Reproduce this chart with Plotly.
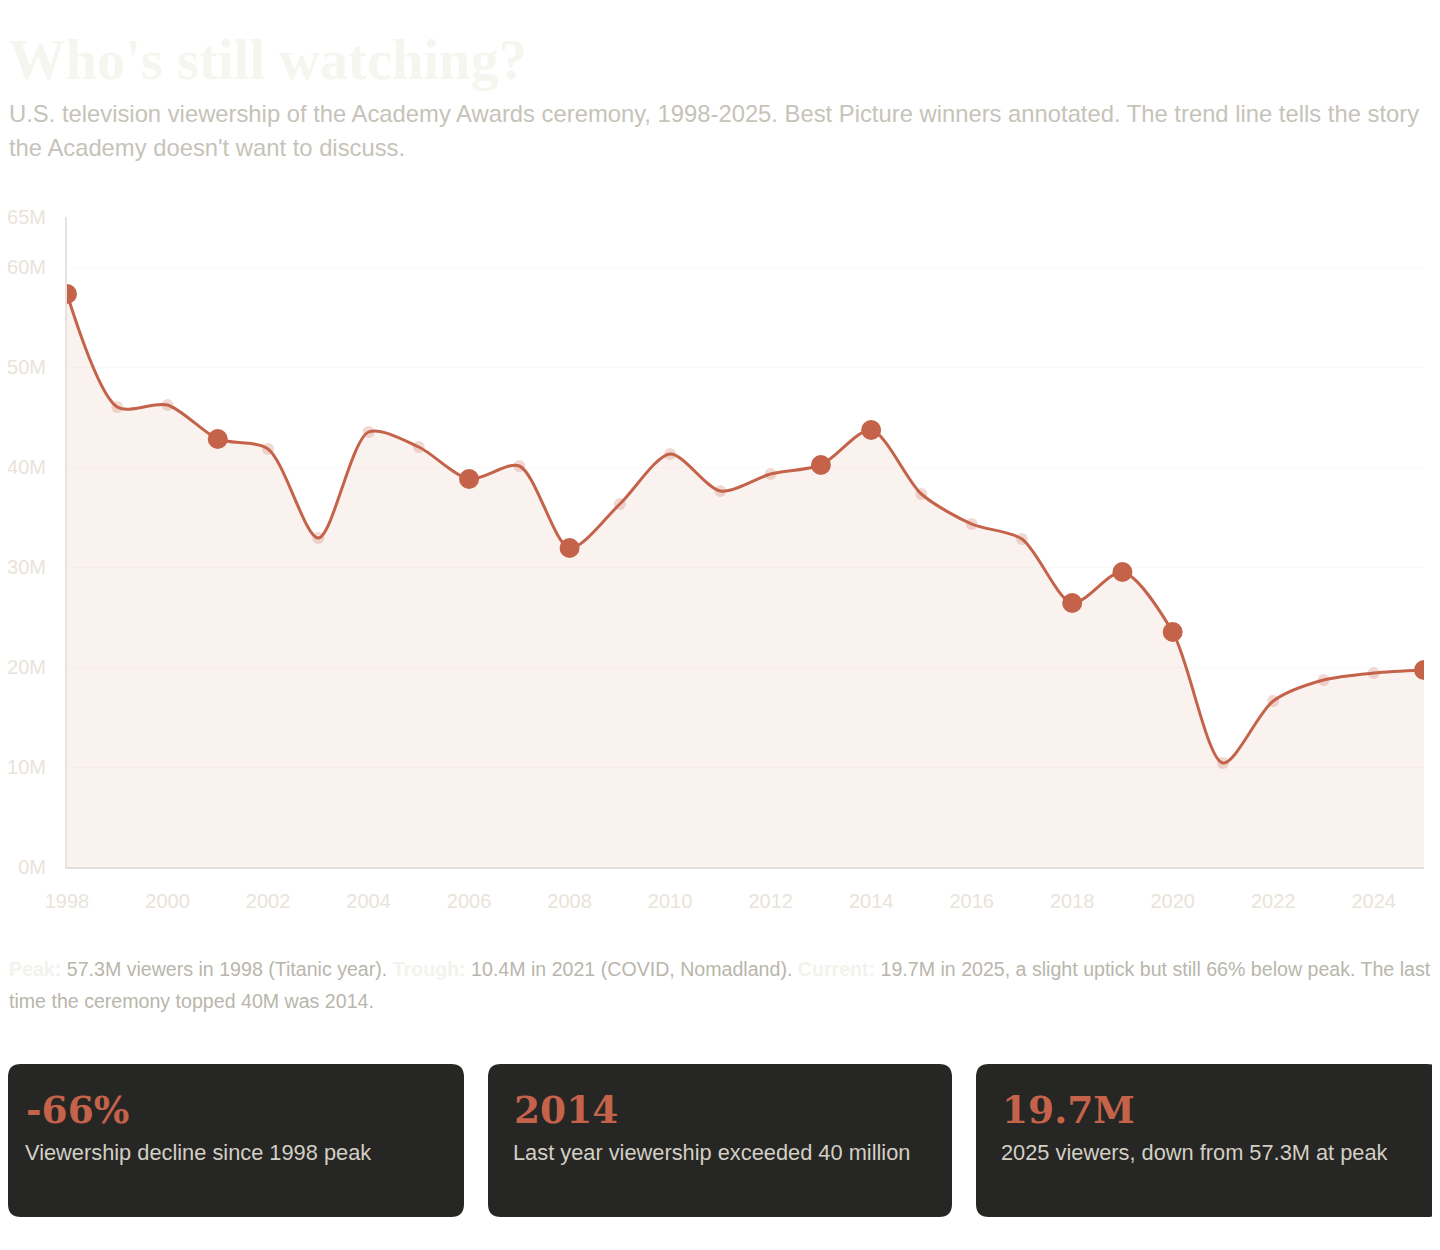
import plotly.graph_objects as go

W, H = 1440, 1250
OFF = 8  # the page body adds an 8px margin around the figure

years = list(range(1998, 2026))
viewers = [57.3, 46.0, 46.2, 42.8, 41.8, 32.9, 43.5, 42.0, 38.8, 40.1,
           31.9, 36.3, 41.3, 37.6, 39.3, 40.2, 43.7, 37.3, 34.3, 32.8,
           26.4, 29.5, 23.5, 10.4, 16.6, 18.7, 19.4, 19.7]

winner_years = [1998, 2001, 2006, 2008, 2013, 2014, 2018, 2019, 2020, 2025]
winner_films = ['Titanic', 'Gladiator', 'Crash', 'No Country for Old Men', 'Argo',
                '12 Years a Slave', 'The Shape of Water', 'Green Book', 'Parasite', 'Anora']
winner_vals = [viewers[years.index(y)] for y in winner_years]

ytick_vals = [0, 10, 20, 30, 40, 50, 60, 65]
ytick_text = ['0M', '10M', '20M', '30M', '40M', '50M', '60M', '65M']
xtick_vals = list(range(1998, 2026, 2))

card_values = ['-66%', '2014', '19.7M']
card_labels = ['Viewership decline since 1998 peak',
               'Last year viewership exceeded 40 million',
               '2025 viewers, down from 57.3M at peak']

ACCENT = '#c4634a'
SANS = 'Liberation Sans, Arial, Helvetica, sans-serif'
SERIF = 'Liberation Serif, Georgia, serif'
SERIF2 = 'DejaVu Serif, Georgia, serif'


# page pixel -> paper fraction
def px(x):
    return min(max((x - OFF) / W, 0), 1)


def py(y):
    return min(max(1 - (y - OFF) / H, 0), 1)


fig = go.Figure()

# faint dots for every year
fig.add_trace(go.Scatter(
    x=years, y=viewers, mode='markers',
    marker=dict(size=12, color='rgba(196,99,74,0.24)'),
    hoverinfo='skip', showlegend=False))

# the smoothed line with area fill
fig.add_trace(go.Scatter(
    x=years, y=viewers, mode='lines',
    line=dict(color=ACCENT, width=3, shape='spline', smoothing=0.8),
    fill='tozeroy', fillcolor='rgba(196,99,74,0.085)',
    hovertemplate='%{x}: %{y:.1f}M<extra></extra>', showlegend=False))

# best picture markers
fig.add_trace(go.Scatter(
    x=winner_years, y=winner_vals, mode='markers',
    marker=dict(size=20, color=ACCENT),
    text=winner_films,
    hovertemplate='%{x} - %{text}: %{y:.1f}M<extra></extra>', showlegend=False))

annotations = []


def note(x, y, text, size, color, family=SANS):
    annotations.append(dict(
        x=px(x), y=py(y), xref='paper', yref='paper', xanchor='left', yanchor='middle',
        text=text, showarrow=False, borderpad=0,
        font=dict(family=family, size=size, color=color)))


# title + subtitle
note(0, 60, "<b>Who's still watching?</b>", 56.5, '#f6f5ef', SERIF)
note(0, 114, 'U.S. television viewership of the Academy Awards ceremony, 1998-2025. '
     'Best Picture winners annotated. The trend line tells the story', 23.8, '#c6c3b9')
note(0, 148, "the Academy doesn't want to discuss.", 23.8, '#c6c3b9')

# footer note
lab = "<b><span style='color:#f4f2ec'>%s</span></b>"
note(0, 969, (lab % 'Peak:') + ' 57.3M viewers in 1998 (Titanic year). '
     + (lab % 'Trough:') + ' 10.4M in 2021 (COVID, Nomadland). '
     + (lab % 'Current:') + ' 19.7M in 2025, a slight uptick but still 66% below peak. The last',
     19.6, '#b9b6ac')
note(0, 1001, 'time the ceremony topped 40M was 2014.', 19.6, '#b9b6ac')

# stat cards
shapes = []
card_x0 = [0, 488, 976]
card_w = 464
cy0, cy1 = 1064, 1217
r = 13
for i, x0 in enumerate(card_x0):
    a, b = max(x0, OFF), x0 + card_w
    path = (f'M {px(a + r)} {py(cy0)} L {px(b - r)} {py(cy0)} '
            f'Q {px(b)} {py(cy0)} {px(b)} {py(cy0 + r)} '
            f'L {px(b)} {py(cy1 - r)} Q {px(b)} {py(cy1)} {px(b - r)} {py(cy1)} '
            f'L {px(a + r)} {py(cy1)} Q {px(a)} {py(cy1)} {px(a)} {py(cy1 - r)} '
            f'L {px(a)} {py(cy0 + r)} Q {px(a)} {py(cy0)} {px(a + r)} {py(cy0)} Z')
    shapes.append(dict(type='path', xref='paper', yref='paper', path=path,
                       fillcolor='#262624', line=dict(width=0), layer='below'))
    note(x0 + 25, 1110, '<b>%s</b>' % card_values[i], 37.5, ACCENT, SERIF2)
    note(x0 + 24, 1152, card_labels[i], 21.8, '#d3cfc5')

fig.update_layout(
    width=W, height=H,
    margin=dict(l=0, r=0, t=0, b=0, pad=0),
    paper_bgcolor='white', plot_bgcolor='white',
    showlegend=False,
    annotations=annotations,
    shapes=shapes,
    xaxis=dict(
        domain=[px(67), px(1424)], range=[1998, 2025],
        tickvals=xtick_vals, ticktext=[str(v) for v in xtick_vals],
        showgrid=False, zeroline=False, automargin=False,
        showline=True, linecolor='#e4dedb', linewidth=2,
        ticks='', ticklabelstandoff=15,
        tickfont=dict(family=SANS, size=20, color='#e9e3da')),
    yaxis=dict(
        domain=[py(867), py(217)], range=[0, 65],
        tickvals=ytick_vals, ticktext=ytick_text,
        showgrid=True, gridcolor='#fbfaf8', gridwidth=1, zeroline=False, automargin=False,
        showline=True, linecolor='#e8e3e0', linewidth=2,
        ticks='', ticklabelstandoff=15,
        tickfont=dict(family=SANS, size=20, color='#e9e3da')),
)

fig.write_html('out.html')
